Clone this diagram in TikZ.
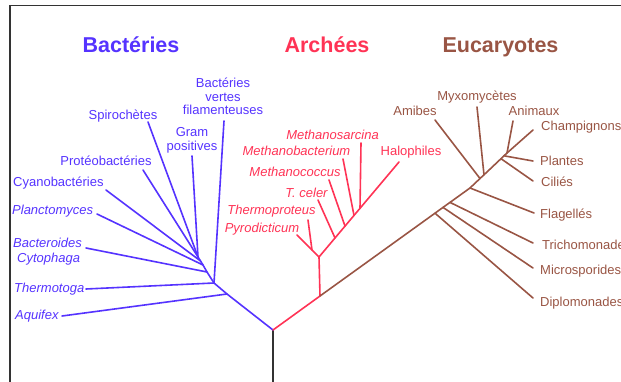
\documentclass[tikz,border=0pt]{standalone}
\usepackage{fontspec}
\setmainfont{Liberation Sans}
\usetikzlibrary{calc}
\definecolor{bact}{RGB}{85,51,255}
\definecolor{arch}{RGB}{255,51,85}
\definecolor{euk}{RGB}{153,85,68}
\definecolor{trunk}{RGB}{51,51,51}
\begin{document}
\begin{tikzpicture}[x=1pt,y=-1pt,
  lbl/.style={inner sep=0pt, font=\fontsize{13}{15}\selectfont, text height=9.5pt, text depth=2.7pt},
  ilbl/.style={lbl, font=\fontsize{13}{15}\selectfont\itshape},
  ttl/.style={inner sep=0pt, anchor=base, font=\fontsize{21.5}{24}\selectfont\bfseries},
  br/.style={line width=1.6pt, line join=round, line cap=round},
  frame/.style={line width=1.3pt, color=trunk}
]
\useasboundingbox (0,0) rectangle (621,382);
\draw[frame] (621,5.5) -- (10,5.5) -- (10,382);

% titles
\node[ttl, bact] (tb) at (131,53) {Bactéries};
\node[ttl, arch] (ta) at (327,53) {Archées};
\node[ttl, euk]  (te) at (500.5,53) {Eucaryotes};

% trunk
\coordinate (root) at (273,330);
\coordinate (base) at (273,382);
\draw[br, trunk, line cap=butt] (root) -- (base);

% ---------------- Bacteria
\coordinate (b1) at (227,294);
\coordinate (b2) at (214,283);
\coordinate (b3) at (207,272);
\coordinate (b4) at (203,265);
\coordinate (b5) at (200.5,261);
\coordinate (b6) at (198,257);
\coordinate (eaqu) at (62,316);
\coordinate (ethm) at (86,289);
\coordinate (ebvf) at (224,121);
\coordinate (ebac) at (86,248);
\coordinate (epla) at (97,214);
\coordinate (ecya) at (106,190);
\coordinate (epro) at (143,170);
\coordinate (espi) at (148,122);
\coordinate (egra) at (192,156);
\draw[br, bact] (root) -- (b1) -- (b2) -- (b3) -- (b4) -- (b5) -- (b6);
\draw[br, bact] (b1) -- (eaqu);
\draw[br, bact] (b2) -- (ethm);
\draw[br, bact] (b2) -- (ebvf);
\draw[br, bact] (b3) -- (ebac);
\draw[br, bact] (b4) -- (epla);
\draw[br, bact] (b5) -- (ecya);
\draw[br, bact] (b6) -- (epro);
\draw[br, bact] (b6) -- (espi);
\draw[br, bact] (b6) -- (egra);

\node[lbl, bact] (spi) at (123,116) {Spirochètes};
\node[lbl, bact] (gra1) at (192,133) {Gram};
\node[lbl, bact] (gra2) at (192,147) {positives};
\node[lbl, bact] (bvf1) at (223,84) {Bactéries};
\node[lbl, bact] (bvf2) at (223,98) {vertes};
\node[lbl, bact] (bvf3) at (223,111) {filamenteuses};
\node[lbl, bact] (pro) at (106,162) {Protéobactéries};
\node[lbl, bact, anchor=west] (cya) at (13,183) {Cyanobactéries};
\node[ilbl, bact, anchor=west] (pla) at (12,211) {Planctomyces};
\node[ilbl, bact, anchor=west] (bac) at (13,244) {Bacteroides};
\node[ilbl, bact, anchor=west] (cyt) at (17,259) {Cytophaga};
\node[ilbl, bact, anchor=west] (thm) at (14,289) {Thermotoga};
\node[ilbl, bact, anchor=west] (aqu) at (15,316) {Aquifex};

% ---------------- Archaea
\coordinate (a0) at (320,296);
\coordinate (a1) at (319,257);
\coordinate (a2) at (312,250);
\coordinate (ehal) at (399,162);
\coordinate (ecel) at (318,200);
\coordinate (ecoc) at (329,180);
\coordinate (emba) at (343,159);
\coordinate (esar) at (361,143);
\coordinate (etpr) at (308,220);
\coordinate (epyr) at (297,235);
\coordinate (acel) at ($(a1)!0.2!(ehal)$);
\coordinate (acoc) at ($(a1)!0.325!(ehal)$);
\coordinate (amba) at ($(a1)!0.4375!(ehal)$);
\coordinate (asar) at ($(a1)!0.5125!(ehal)$);
\draw[br, arch] (root) -- (a0) -- (a1) -- (ehal);
\draw[br, arch] (a1) -- (a2) -- (epyr);
\draw[br, arch] (a2) -- (etpr);
\draw[br, arch] (acel) -- (ecel);
\draw[br, arch] (acoc) -- (ecoc);
\draw[br, arch] (amba) -- (emba);
\draw[br, arch] (asar) -- (esar);

\node[ilbl, arch] (sar) at (332.5,136) {Methanosarcina};
\node[ilbl, arch] (mba) at (296.5,152) {Methanobacterium};
\node[ilbl, arch] (coc) at (295,173) {Methanococcus};
\node[ilbl, arch] (cel) at (306.5,194) {T. celer};
\node[ilbl, arch] (tpr) at (271.5,211) {Thermoproteus};
\node[ilbl, arch] (pyr) at (262,229) {Pyrodicticum};
\node[lbl, arch] (hal) at (411,152) {Halophiles};

% ---------------- Eukaryotes
\coordinate (d1) at (435,213.2);
\coordinate (d2) at (443,207.4);
\coordinate (d3) at (450,202.4);
\coordinate (d4) at (470,188);
\coordinate (d5) at (480,178.5);
\coordinate (d6) at (484,174.8);
\coordinate (d7) at (501,158.7);
\coordinate (d8) at (504,155.8);
\coordinate (d9) at (507,153);
\coordinate (edip) at (533,298);
\coordinate (emic) at (533,268);
\coordinate (etri) at (533,243);
\coordinate (efla) at (534,213);
\coordinate (eami) at (435,120);
\coordinate (emyx) at (477,107);
\coordinate (ecil) at (533,181);
\coordinate (epla2) at (533,161);
\coordinate (eani) at (513,121);
\coordinate (echa) at (533,130);
\draw[br, euk] (a0) -- (d1) -- (d2) -- (d3) -- (d4) -- (d5) -- (d6) -- (d7) -- (d8) -- (d9);
\draw[br, euk] (d1) -- (edip);
\draw[br, euk] (d2) -- (emic);
\draw[br, euk] (d3) -- (etri);
\draw[br, euk] (d4) -- (efla);
\draw[br, euk] (d5) -- (eami);
\draw[br, euk] (d6) -- (emyx);
\draw[br, euk] (d7) -- (ecil);
\draw[br, euk] (d8) -- (epla2);
\draw[br, euk] (d9) -- (eani);
\draw[br, euk] (d9) -- (echa);

\node[lbl, euk] (myx) at (477,97) {Myxomycètes};
\node[lbl, euk] (ami) at (415,112) {Amibes};
\node[lbl, euk] (ani) at (534,112) {Animaux};
\node[lbl, euk, anchor=west] (cha) at (541,127) {Champignons};
\node[lbl, euk, anchor=west] (plt) at (540,162) {Plantes};
\node[lbl, euk, anchor=west] (cil) at (541,183) {Ciliés};
\node[lbl, euk, anchor=west] (fla) at (540,215) {Flagellés};
\node[lbl, euk, anchor=west] (tri) at (542,246) {Trichomonades};
\node[lbl, euk, anchor=west] (mic) at (540,271) {Microsporides};
\node[lbl, euk, anchor=west] (dip) at (540,303) {Diplomonades};
\end{tikzpicture}
\end{document}
